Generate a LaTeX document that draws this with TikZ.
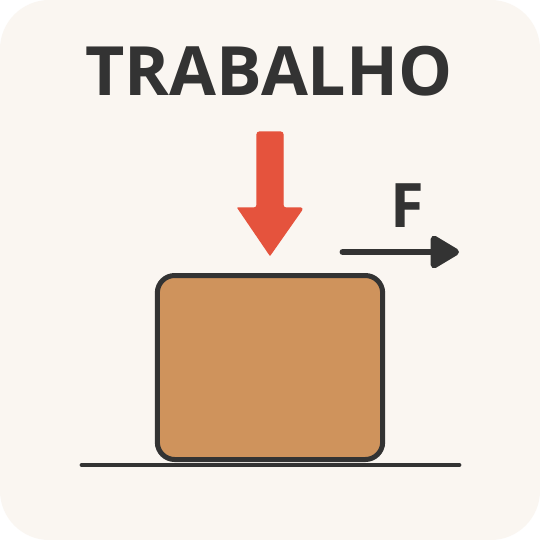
\documentclass[tikz,border=0pt]{standalone}
\usepackage{fontspec}
\setmainfont{Open Sans}
\usetikzlibrary{arrows.meta}
\definecolor{bg}{HTML}{FAF6F1}
\definecolor{ink}{HTML}{333333}
\definecolor{redarrow}{HTML}{E5533D}
\definecolor{boxfill}{HTML}{CF935C}
\tikzset{
  px/.style={x=0.75pt,y=-0.75pt},
  title/.style={font=\fontsize{51pt}{51pt}\selectfont\bfseries, text=ink, inner sep=0pt, anchor=base},
  flabel/.style={font=\fontsize{46pt}{46pt}\selectfont\bfseries, text=ink, inner sep=0pt, anchor=base},
  block/.style={draw=ink, line width=3.75pt, fill=boxfill, rounded corners=13pt},
  ground/.style={draw=ink, line width=3.6pt, line cap=round},
  forcearrow/.style={draw=ink, line width=5.2pt, line cap=round, -{Triangle[length=24pt,width=27pt,round]}},
  redshape/.style={fill=redarrow, draw=redarrow, line width=1pt, line join=round}
}
\begin{document}
\begin{tikzpicture}[px]
\useasboundingbox (0,0) rectangle (540,540);
\fill[white] (0,0) rectangle (540,540);
\fill[bg, rounded corners=37pt] (0,0) rectangle (540,540);
\node[title] (title) at (269,95) {TRABALHO};
% red arrow
\path[redshape] (257,132) [rounded corners=2pt] -- (283,132) -- (283,208) -- (303,208) [sharp corners] -- (270,255) -- (238,208) [rounded corners=2pt] -- (257,208) -- cycle;
\coordinate (redtip) at (270,255);
% block
\node[block, minimum width=169pt, minimum height=138pt, inner sep=0pt] (block) at (270,367.5) {};
% ground
\coordinate (gl) at (82,465);
\coordinate (gr) at (459,465);
\draw[ground] (gl) -- (gr);
% force
\coordinate (fs) at (343,252);
\coordinate (fe) at (459,252);
\draw[forcearrow] (fs) -- (fe);
\node[flabel] (F) at (407,227) {F};
\end{tikzpicture}
\end{document}
